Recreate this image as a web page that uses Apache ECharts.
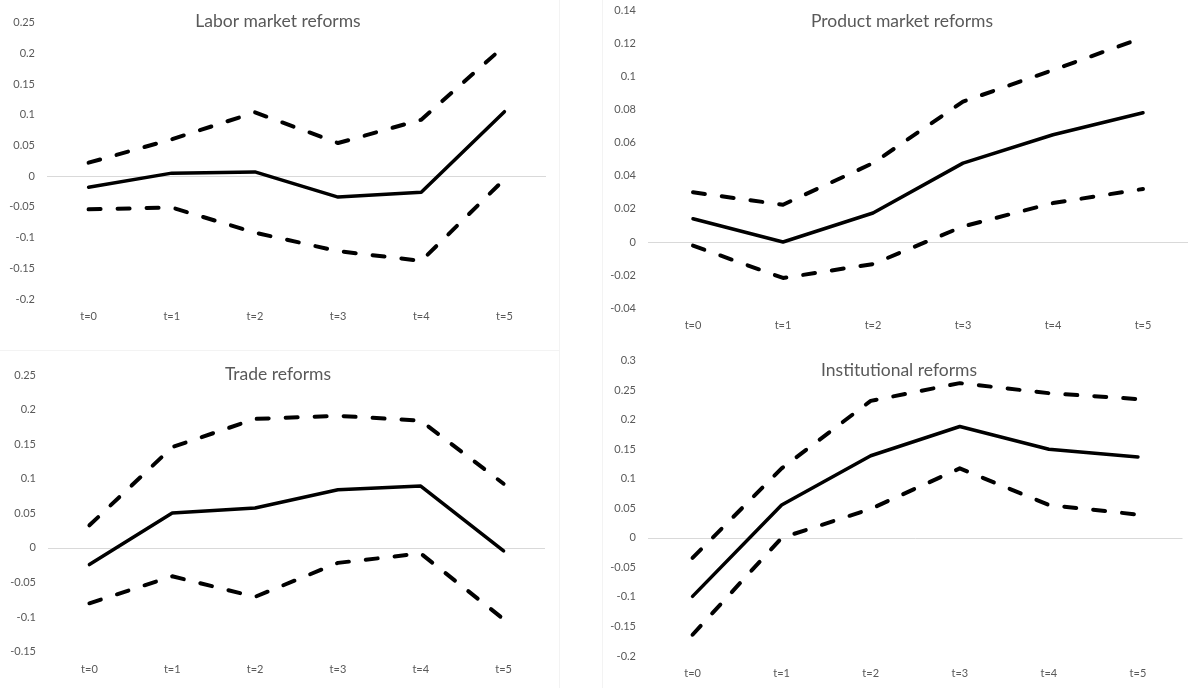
<!DOCTYPE html>
<html>
<head>
<meta charset="utf-8">
<script src="https://cdn.jsdelivr.net/npm/echarts@6/dist/echarts.min.js"></script>
<style>
html,body{margin:0;padding:0;background:#fff;}
#chart{width:1188px;height:688px;}
</style>
</head>
<body>
<div id="chart"></div>
<script>
var categories = ['t=0', 't=1', 't=2', 't=3', 't=4', 't=5'];

var titles = ['Labor market reforms', 'Product market reforms', 'Trade reforms', 'Institutional reforms'];

var laborEst = [-0.018, 0.005, 0.007, -0.034, -0.026, 0.105];
var laborHi  = [0.022, 0.060, 0.104, 0.054, 0.092, 0.212];
var laborLo  = [-0.054, -0.051, -0.092, -0.122, -0.138, -0.005];

var productEst = [0.014, 0.0, 0.0175, 0.0476, 0.0647, 0.078];
var productHi  = [0.030, 0.0225, 0.0476, 0.0847, 0.1038, 0.1233];
var productLo  = [-0.0022, -0.0217, -0.0133, 0.0094, 0.0235, 0.032];

var tradeEst = [-0.024, 0.0505, 0.0577, 0.084, 0.0894, -0.0043];
var tradeHi  = [0.0327, 0.1457, 0.1865, 0.191, 0.184, 0.0928];
var tradeLo  = [-0.080, -0.041, -0.0707, -0.0216, -0.008, -0.103];

var instEst = [-0.099, 0.0557, 0.139, 0.1886, 0.150, 0.137];
var instHi  = [-0.0338, 0.1177, 0.232, 0.262, 0.245, 0.235];
var instLo  = [-0.164, 0.0, 0.049, 0.1177, 0.0557, 0.0394];

var yMin = [-0.2, -0.04, -0.15, -0.2];
var yMax = [0.25, 0.14, 0.25, 0.3];
var yStep = [0.05, 0.02, 0.05, 0.05];

var panelData = [
  [laborEst, laborHi, laborLo],
  [productEst, productHi, productLo],
  [tradeEst, tradeHi, tradeLo],
  [instEst, instHi, instLo]
];

// layout (pixels)
var grids = [
  {left: 47, top: 22.7, width: 499, height: 276.3},
  {left: 648, top: 10, width: 540, height: 298.3},
  {left: 48, top: 375, width: 497, height: 276.7},
  {left: 648, top: 360.7, width: 534.5, height: 295.3}
];
var titlePos = [[278, 12.5], [902, 12.5], [278, 365.5], [899, 361.5]];

var FONT = 'Lato, "Open Sans", sans-serif';
var GRAY = '#595959';

var option = {
  backgroundColor: '#ffffff',
  animation: false,
  textStyle: {fontFamily: FONT},
  title: [],
  grid: [],
  xAxis: [],
  yAxis: [],
  series: [],
  graphic: [
    {type: 'line', shape: {x1: 559.5, y1: 0, x2: 559.5, y2: 688}, style: {stroke: '#f3f3f3', lineWidth: 1}, silent: true},
    {type: 'line', shape: {x1: 602.5, y1: 0, x2: 602.5, y2: 688}, style: {stroke: '#f3f3f3', lineWidth: 1}, silent: true},
    {type: 'line', shape: {x1: 0, y1: 350.5, x2: 559.5, y2: 350.5}, style: {stroke: '#f3f3f3', lineWidth: 1}, silent: true}
  ]
};

for (var i = 0; i < 4; i++) {
  option.title.push({
    text: titles[i],
    left: titlePos[i][0],
    top: titlePos[i][1],
    textAlign: 'center',
    padding: 0,
    textStyle: {fontFamily: FONT, fontSize: 17.5, fontWeight: 'normal', color: GRAY}
  });
  option.grid.push(grids[i]);
  option.xAxis.push({
    type: 'category',
    gridIndex: i,
    data: categories,
    boundaryGap: true,
    axisLine: {show: false, onZero: false},
    axisTick: {show: false},
    splitLine: {show: false},
    axisLabel: {color: GRAY, fontSize: 11, fontFamily: FONT, margin: 12}
  });
  option.yAxis.push({
    type: 'value',
    gridIndex: i,
    min: yMin[i],
    max: yMax[i],
    interval: yStep[i],
    axisLine: {show: false},
    axisTick: {show: false},
    splitLine: {show: false},
    axisLabel: {color: GRAY, fontSize: 11, fontFamily: FONT, margin: 12}
  });
  var d = panelData[i];
  option.series.push({
    type: 'line', xAxisIndex: i, yAxisIndex: i, data: d[1],
    symbol: 'none', silent: true, z: 3,
    lineStyle: {color: '#000', width: 4, type: [12, 17], cap: 'round', join: 'round'}
  });
  option.series.push({
    type: 'line', xAxisIndex: i, yAxisIndex: i, data: d[2],
    symbol: 'none', silent: true, z: 3,
    lineStyle: {color: '#000', width: 4, type: [12, 17], cap: 'round', join: 'round'}
  });
  option.series.push({
    type: 'line', xAxisIndex: i, yAxisIndex: i, data: d[0],
    symbol: 'none', silent: true, z: 4,
    lineStyle: {color: '#000', width: 3.5, type: 'solid', cap: 'round', join: 'round'},
    markLine: {
      silent: true, symbol: 'none', z: 1,
      label: {show: false},
      lineStyle: {color: '#d9d9d9', width: 1, type: 'solid'},
      data: [{yAxis: 0}]
    }
  });
}

var chart = echarts.init(document.getElementById('chart'), null, {renderer: 'canvas'});
chart.setOption(option);
</script>
</body>
</html>
